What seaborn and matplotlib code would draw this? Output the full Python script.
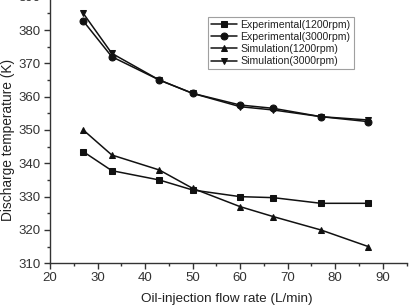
import pandas as pd
import matplotlib
matplotlib.use("Agg")
import matplotlib.pyplot as plt
import seaborn as sns
from matplotlib.ticker import MultipleLocator

flow = [27, 33, 43, 50, 60, 67, 77, 87]
exp_1200 = [343.5, 337.8, 335.0, 332.0, 330.0, 329.7, 328.0, 328.0]
exp_3000 = [382.7, 372.0, 365.0, 361.0, 357.5, 356.5, 354.0, 352.5]
sim_1200 = [350.0, 342.5, 338.0, 332.5, 327.0, 324.0, 320.0, 315.0]
sim_3000 = [385.0, 373.0, 365.0, 361.0, 357.0, 356.0, 354.0, 353.0]

series = [
    ('Experimental(1200rpm)', exp_1200, 's'),
    ('Experimental(3000rpm)', exp_3000, 'o'),
    ('Simulation(1200rpm)', sim_1200, '^'),
    ('Simulation(3000rpm)', sim_3000, 'v'),
]

sns.set_style('ticks')
plt.rcParams['font.family'] = ['Liberation Sans', 'DejaVu Sans']

fig = plt.figure(figsize=(4.09, 3.06), dpi=100)
ax = fig.add_axes([50 / 409, (306 - 263.3) / 306, (406.5 - 50) / 409, (263.3 + 3.3) / 306])

for name, vals, mk in series:
    df = pd.DataFrame({'x': flow, 'y': vals})
    sns.lineplot(data=df, x='x', y='y', ax=ax, color='#111111', lw=1.1,
                 marker=mk, markersize=5, markeredgecolor='#111111', label=name)

ax.set_xlim(20, 95)
ax.set_ylim(310, 390)
ax.xaxis.set_minor_locator(MultipleLocator(5))
ax.yaxis.set_major_locator(MultipleLocator(10))
ax.yaxis.set_minor_locator(MultipleLocator(5))
ax.set_xticks(range(20, 91, 10))
ax.tick_params(which='major', length=4, width=1, colors='#333333', labelsize=9.5,
               direction='out', pad=2.5)
ax.tick_params(which='minor', length=2.5, width=1, colors='#333333', direction='out')
for s in ['left', 'bottom']:
    ax.spines[s].set_color('#333333')
    ax.spines[s].set_linewidth(1)
sns.despine(ax=ax)
ax.set_xlabel('Oil-injection flow rate (L/min)', fontsize=9.7, color='#222222')
ax.set_ylabel('Discharge temperature (K)', fontsize=9.9, color='#222222')
ax.xaxis.set_label_coords(0.497, -0.11)
ax.yaxis.set_label_coords(-0.098, 0.462)

leg = ax.legend(loc='upper left', bbox_to_anchor=(0.442, 0.925), fontsize=7.6, frameon=True,
                fancybox=False, edgecolor='#888888', handlelength=2.5, handletextpad=0.3,
                borderpad=0.3, labelspacing=0.2, borderaxespad=0)
leg.get_frame().set_linewidth(0.8)
for t in leg.get_texts():
    t.set_color('#222222')

fig.savefig('out.png', dpi=100)
